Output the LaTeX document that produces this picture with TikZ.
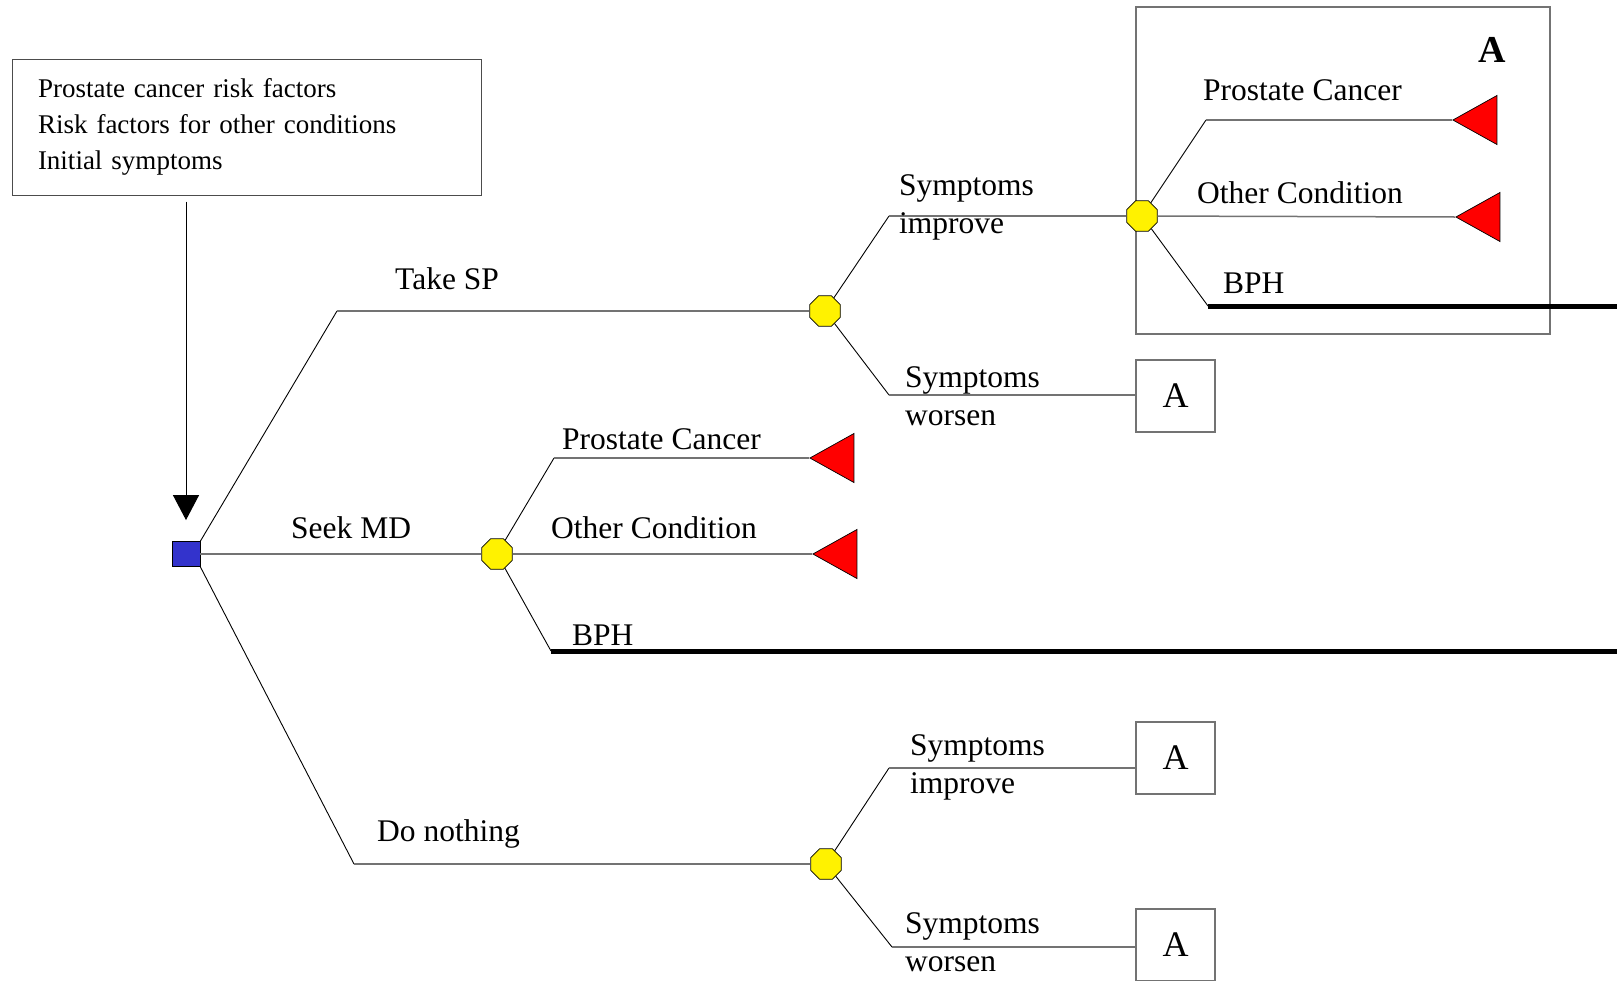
\documentclass[tikz,border=0pt]{standalone}
\usepackage{fontspec}
\setmainfont{Liberation Serif}
\usetikzlibrary{shapes.geometric, arrows.meta, positioning}
\definecolor{decblue}{RGB}{51,51,204}
\definecolor{linegray}{RGB}{115,115,115}

\begin{document}
\begin{tikzpicture}[
    x=1pt, y=-1pt,
    branch/.style={draw=linegray, line width=1.5pt},
    slant/.style={draw=black, line width=0.9pt},
    bph/.style={draw=black, line width=5pt},
    decision/.style={rectangle, draw=black, fill=decblue, minimum width=28pt, minimum height=25pt, inner sep=0pt, line width=0.8pt},
    chance/.style={regular polygon, regular polygon sides=8, draw=black, fill=yellow, minimum size=33pt, inner sep=0pt, line width=0.7pt},
    terminal/.style={isosceles triangle, isosceles triangle stretches, shape border rotate=180, draw=black, fill=red, minimum width=49pt, minimum height=44pt, inner sep=0pt, line width=0.7pt, anchor=apex},
    subtree/.style={rectangle, draw=linegray, line width=1.3pt, minimum width=79pt, minimum height=72pt, inner sep=0pt, font=\fontsize{36}{40}\selectfont},
    infobox/.style={rectangle, draw=black!70, line width=1pt, text width=417pt, inner xsep=26pt, minimum height=136pt, align=left, font=\fontsize{27}{36}\selectfont},
    lbl/.style={anchor=base west, inner sep=0pt, align=left, font=\fontsize{31.5}{38}\selectfont},
    arrow/.style={-{Triangle[width=26pt, length=25pt]}, line width=1pt}
]
\clip (0,0) rectangle (1617,980);

% frame of subtree A
\node[draw=linegray, line width=1.3pt, minimum width=414pt, minimum height=327pt, inner sep=0pt] (frameA) at (1343,170.5) {};
\node[lbl, font=\fontsize{38}{40}\selectfont\bfseries] (Atop) at (1478,62) {A};

\node[infobox] (info) at (246.5,127) {Prostate cancer risk factors\\Risk factors for other conditions\\Initial symptoms};

% decision and chance nodes
\node[decision] (dec) at (186,554) {};
\node[chance] (csp) at (825,311) {};
\node[chance] (cmd) at (497,554) {};
\node[chance] (cdn) at (826,864) {};
\node[chance] (cimp) at (1142,216) {};

% terminals
\node[terminal] (t1) at (809,458) {};
\node[terminal] (t2) at (812,554) {};
\node[terminal] (t3) at (1452,120) {};
\node[terminal] (t4) at (1455,217) {};
\node[subtree] (A1) at (1175.5,396) {A};
\node[subtree] (A2) at (1175.5,758) {A};
\node[subtree] (A3) at (1175.5,945) {A};

\draw[arrow] (info.south -| dec.north) ++(0,6) -- ([yshift=21pt]dec.north);

% first level
\coordinate (e1) at (337,311);
\coordinate (e3) at (354,864);
\draw[slant] (dec.north east) -- (e1);
\draw[branch] (e1) -- (csp);
\draw[branch] (dec.east) -- (cmd);
\draw[slant] (dec.south east) -- (e3);
\draw[branch] (e3) -- (cdn);

% take SP
\coordinate (e11) at (889,216);
\coordinate (e12) at (889,395);
\draw[slant] (csp) -- (e11);
\draw[branch] (e11) -- (cimp);
\draw[slant] (csp) -- (e12);
\draw[branch] (e12) -- (e12 -| A1.west);

% seek MD
\coordinate (e21) at (554,458);
\coordinate (e23) at (551,651);
\coordinate (r2) at (1617,651);
\draw[slant] (cmd) -- (e21);
\draw[branch] (e21) -- (t1.apex);
\draw[branch] (cmd) -- (t2.apex);
\draw[slant] (cmd) -- (e23);
\draw[bph] (e23) -- (r2);

% do nothing
\coordinate (e31) at (889,768);
\coordinate (e32) at (892,947);
\draw[slant] (cdn) -- (e31);
\draw[branch] (e31) -- (e31 -| A2.west);
\draw[slant] (cdn) -- (e32);
\draw[branch] (e32) -- (e32 -| A3.west);

% inside A
\coordinate (e41) at (1206,120);
\coordinate (e43) at (1208,306);
\coordinate (r4) at (1617,306);
\draw[slant] (cimp) -- (e41);
\draw[branch] (e41) -- (t3.apex);
\draw[branch] (cimp) -- (t4.apex);
\draw[slant] (cimp) -- (e43);
\draw[bph] (e43) -- (r4);

% labels (two-line labels sit on their last baseline)
\node[lbl] (ltsp) at (395,289) {Take SP};
\node[lbl] (lsmd) at (291,538) {Seek MD};
\node[lbl] (ldn) at (377,841) {Do nothing};
\node[lbl] (limp1) at (899,233) {Symptoms\\improve};
\node[lbl] (lwor1) at (905,425) {Symptoms\\worsen};
\node[lbl] (lpc1) at (562,449) {Prostate Cancer};
\node[lbl] (loc1) at (551,538) {Other Condition};
\node[lbl] (lbph1) at (572,645) {BPH};
\node[lbl] (lpc2) at (1203,100) {Prostate Cancer};
\node[lbl] (loc2) at (1197,203) {Other Condition};
\node[lbl] (lbph2) at (1223,293) {BPH};
\node[lbl] (limp2) at (910,793) {Symptoms\\improve};
\node[lbl] (lwor2) at (905,971) {Symptoms\\worsen};
\end{tikzpicture}
\end{document}
